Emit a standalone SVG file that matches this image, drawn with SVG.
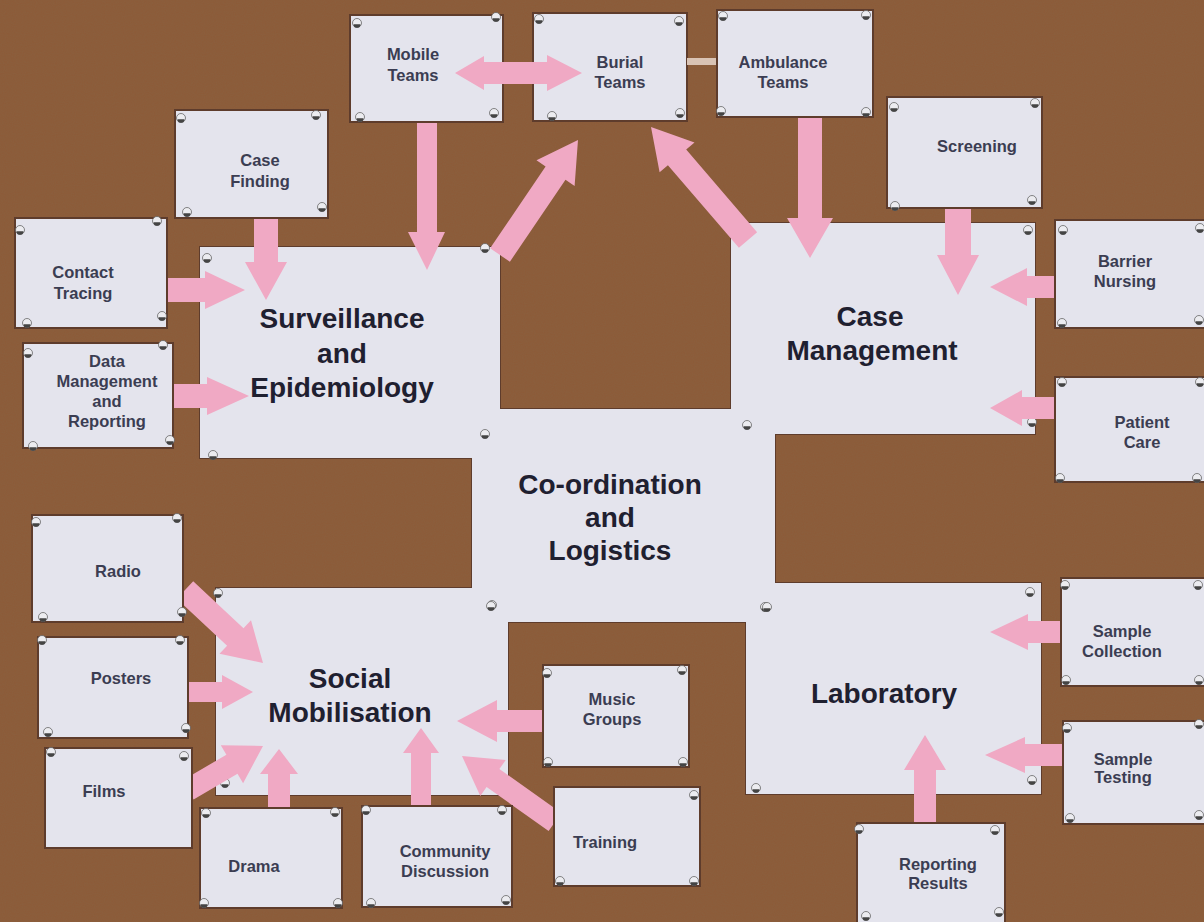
<svg xmlns="http://www.w3.org/2000/svg" xmlns:xlink="http://www.w3.org/1999/xlink" width="1204" height="922" viewBox="0 0 1204 922">
<defs>
<style>
.card{fill:#e4e4ed;stroke:#5e3c2c;stroke-width:2}
.cardfill{fill:#e4e4ed}
.arrow{fill:#f0a9c4}
.sm{font-family:"Liberation Sans",Arial,sans-serif;font-size:16.5px;font-weight:bold;fill:#3b3d52;text-anchor:middle}
.big{font-family:"Liberation Sans",Arial,sans-serif;font-size:28px;font-weight:bold;fill:#1f2030;text-anchor:middle}
</style>
<g id="pin">
<circle r="4.5" fill="#ececf0" stroke="#555" stroke-width="0.7"/>
<path d="M-3.5,1.2 A3.5,3.5 0 0 0 3.5,1.2 Z" fill="#444"/>
</g>
<filter id="tex" x="0" y="0" width="100%" height="100%">
<feTurbulence type="fractalNoise" baseFrequency="0.9" numOctaves="2" seed="3"/>
<feColorMatrix values="0 0 0 0 0.25  0 0 0 0 0.14  0 0 0 0 0.07  0 0 0 0.35 0"/>
</filter>
</defs>

<rect id="board" x="0" y="0" width="1204" height="922" fill="#8c5a37"/>
<rect x="0" y="0" width="1204" height="922" filter="url(#tex)"/>

<!-- big cards: outline pass -->
<g id="big-outlines">
<rect class="card" x="200" y="247" width="300" height="211"/>
<rect class="card" x="731" y="223" width="304" height="211"/>
<rect class="card" x="216" y="588" width="292" height="207"/>
<rect class="card" x="746" y="583" width="295" height="211"/>
<rect class="card" x="472" y="409" width="303" height="213"/>
</g>

<g id="surveillance">
<rect class="cardfill" x="200" y="247" width="300" height="211"/>
<text class="big" x="342" y="328">Surveillance</text>
<text class="big" x="342" y="363">and</text>
<text class="big" x="342" y="397">Epidemiology</text>
</g>
<g id="case-management">
<rect class="cardfill" x="731" y="223" width="304" height="211"/>
<text class="big" x="870" y="326">Case</text>
<text class="big" x="872" y="360">Management</text>
</g>
<g id="social-mobilisation">
<rect class="cardfill" x="216" y="588" width="292" height="207"/>
<text class="big" x="350" y="688">Social</text>
<text class="big" x="350" y="722">Mobilisation</text>
</g>
<g id="laboratory">
<rect class="cardfill" x="746" y="583" width="295" height="211"/>
<text class="big" x="884" y="703">Laboratory</text>
</g>
<g id="coordination">
<rect class="cardfill" x="472" y="409" width="303" height="213"/>
<text class="big" x="610" y="494">Co-ordination</text>
<text class="big" x="610" y="527">and</text>
<text class="big" x="610" y="560">Logistics</text>
</g>

<g id="big-pins">
<use xlink:href="#pin" x="207" y="258"/>
<use xlink:href="#pin" x="485" y="248"/>
<use xlink:href="#pin" x="213" y="455"/>
<use xlink:href="#pin" x="1028" y="230"/>
<use xlink:href="#pin" x="1032" y="422"/>
<use xlink:href="#pin" x="485" y="434"/>
<use xlink:href="#pin" x="747" y="425"/>
<use xlink:href="#pin" x="492" y="605"/>
<use xlink:href="#pin" x="765" y="607"/>
<use xlink:href="#pin" x="218" y="593"/>
<use xlink:href="#pin" x="491" y="606"/>
<use xlink:href="#pin" x="225" y="783"/>
<use xlink:href="#pin" x="767" y="607"/>
<use xlink:href="#pin" x="1030" y="592"/>
<use xlink:href="#pin" x="756" y="788"/>
<use xlink:href="#pin" x="1032" y="780"/>
</g>

<g id="connectors">
<polygon class="arrow" points="417,115 437,115 437,232 445,232 427,270 408,232 417,232"/>
<polygon class="arrow" points="254,210 278,210 278,262 287,262 266,300 245,262 254,262"/>
<polygon class="arrow" points="160,278 205,278 205,271 245,290 205,309 205,302 160,302"/>
<polygon class="arrow" points="165,384 207,384 207,377 249,396 207,415 207,408 165,408"/>
<polygon class="arrow" points="509.9,261.7 565.5,179.8 574.6,186.0 578,140 536.5,160.2 545.6,166.4 490.1,248.3"/>
<polygon class="arrow" points="757.1,232.2 686.2,149.5 694.5,142.4 651,127 659.6,172.3 667.9,165.2 738.9,247.8"/>
<polygon class="arrow" points="798,110 822,110 822,218 833,218 810,258 787,218 798,218"/>
<polygon class="arrow" points="945,200 971,200 971,255 979,255 958,295 937,255 945,255"/>
<polygon class="arrow" points="1065,276 1027,276 1027,268 990,287 1027,306 1027,298 1065,298"/>
<polygon class="arrow" points="1065,397 1022,397 1022,390 990,408 1022,426 1022,419 1065,419"/>
<polygon class="arrow" points="176.8,598.8 227.1,645.8 219.5,653.8 263,663 251.0,620.2 243.5,628.3 193.2,581.2"/>
<polygon class="arrow" points="180,682 222,682 222,675 253,692 222,709 222,702 180,702"/>
<polygon class="arrow" points="193.6,799.5 237.5,773.7 243.1,783.2 263,746 220.8,745.2 226.4,754.7 182.4,780.5"/>
<polygon class="arrow" points="268,815 290,815 290,774 298,774 279,749 260,774 268,774"/>
<polygon class="arrow" points="411,815 431,815 431,753 439,753 421,728 403,753 411,753"/>
<polygon class="arrow" points="548,710 497,710 497,700 457,721 497,742 497,732 548,732"/>
<polygon class="arrow" points="561.4,813.0 499.4,769.0 505.7,760.1 462,756 480.3,795.9 486.6,787.0 548.6,831.0"/>
<polygon class="arrow" points="1068,621 1028,621 1028,614 990,632 1028,650 1028,643 1068,643"/>
<polygon class="arrow" points="1068,744 1025,744 1025,737 985,755 1025,773 1025,766 1068,766"/>
<polygon class="arrow" points="914,830 936,830 936,770 946,770 925,735 904,770 914,770"/>
</g>

<g id="mobile-teams">
<rect class="card" x="350" y="15" width="153" height="107"/>
<text class="sm" x="413" y="60">Mobile</text>
<text class="sm" x="413" y="81">Teams</text>
<use xlink:href="#pin" x="357" y="23"/><use xlink:href="#pin" x="496" y="17"/><use xlink:href="#pin" x="360" y="117"/><use xlink:href="#pin" x="494" y="113"/>
</g>
<g id="burial-teams">
<rect class="card" x="533" y="13" width="154" height="108"/>
<text class="sm" x="620" y="68">Burial</text>
<text class="sm" x="620" y="88">Teams</text>
<use xlink:href="#pin" x="539" y="19"/><use xlink:href="#pin" x="679" y="21"/><use xlink:href="#pin" x="552" y="116"/><use xlink:href="#pin" x="680" y="113"/>
</g>
<rect id="tape" x="687" y="58" width="31" height="7" fill="#d9c3b4"/>
<g id="ambulance-teams">
<rect class="card" x="717" y="10" width="156" height="107"/>
<text class="sm" x="783" y="68">Ambulance</text>
<text class="sm" x="783" y="88">Teams</text>
<use xlink:href="#pin" x="723" y="16"/><use xlink:href="#pin" x="866" y="15"/><use xlink:href="#pin" x="721" y="111"/><use xlink:href="#pin" x="866" y="112"/>
</g>
<g id="case-finding">
<rect class="card" x="175" y="110" width="153" height="108"/>
<text class="sm" x="260" y="166">Case</text>
<text class="sm" x="260" y="187">Finding</text>
<use xlink:href="#pin" x="181" y="118"/><use xlink:href="#pin" x="316" y="115"/><use xlink:href="#pin" x="187" y="212"/><use xlink:href="#pin" x="322" y="207"/>
</g>
<g id="contact-tracing">
<rect class="card" x="15" y="218" width="152" height="110"/>
<text class="sm" x="83" y="278">Contact</text>
<text class="sm" x="83" y="299">Tracing</text>
<use xlink:href="#pin" x="20" y="230"/><use xlink:href="#pin" x="157" y="221"/><use xlink:href="#pin" x="27" y="323"/><use xlink:href="#pin" x="162" y="316"/>
</g>
<g id="data-management">
<rect class="card" x="23" y="343" width="150" height="105"/>
<text class="sm" x="107" y="367">Data</text>
<text class="sm" x="107" y="387">Management</text>
<text class="sm" x="107" y="407">and</text>
<text class="sm" x="107" y="427">Reporting</text>
<use xlink:href="#pin" x="28" y="353"/><use xlink:href="#pin" x="163" y="345"/><use xlink:href="#pin" x="33" y="446"/><use xlink:href="#pin" x="170" y="440"/>
</g>
<g id="screening">
<rect class="card" x="887" y="97" width="155" height="111"/>
<text class="sm" x="977" y="152">Screening</text>
<use xlink:href="#pin" x="894" y="107"/><use xlink:href="#pin" x="1035" y="103"/><use xlink:href="#pin" x="895" y="206"/><use xlink:href="#pin" x="1032" y="200"/>
</g>
<g id="barrier-nursing">
<rect class="card" x="1055" y="220" width="160" height="108"/>
<text class="sm" x="1125" y="267">Barrier</text>
<text class="sm" x="1125" y="287">Nursing</text>
<use xlink:href="#pin" x="1063" y="230"/><use xlink:href="#pin" x="1200" y="228"/><use xlink:href="#pin" x="1062" y="323"/><use xlink:href="#pin" x="1199" y="320"/>
</g>
<g id="patient-care">
<rect class="card" x="1055" y="377" width="160" height="105"/>
<text class="sm" x="1142" y="428">Patient</text>
<text class="sm" x="1142" y="448">Care</text>
<use xlink:href="#pin" x="1062" y="382"/><use xlink:href="#pin" x="1200" y="382"/><use xlink:href="#pin" x="1060" y="478"/><use xlink:href="#pin" x="1197" y="478"/>
</g>
<g id="radio">
<rect class="card" x="32" y="515" width="151" height="107"/>
<text class="sm" x="118" y="577">Radio</text>
<use xlink:href="#pin" x="36" y="522"/><use xlink:href="#pin" x="177" y="518"/><use xlink:href="#pin" x="43" y="617"/><use xlink:href="#pin" x="182" y="612"/>
</g>
<g id="posters">
<rect class="card" x="38" y="637" width="150" height="101"/>
<text class="sm" x="121" y="684">Posters</text>
<use xlink:href="#pin" x="42" y="640"/><use xlink:href="#pin" x="180" y="640"/><use xlink:href="#pin" x="48" y="732"/><use xlink:href="#pin" x="186" y="728"/>
</g>
<g id="films">
<rect class="card" x="45" y="748" width="147" height="100"/>
<text class="sm" x="104" y="797">Films</text>
<use xlink:href="#pin" x="51" y="752"/><use xlink:href="#pin" x="184" y="756"/>
</g>
<g id="drama">
<rect class="card" x="200" y="808" width="142" height="100"/>
<text class="sm" x="254" y="872">Drama</text>
<use xlink:href="#pin" x="206" y="813"/><use xlink:href="#pin" x="335" y="812"/><use xlink:href="#pin" x="204" y="903"/><use xlink:href="#pin" x="338" y="903"/>
</g>
<g id="community-discussion">
<rect class="card" x="362" y="806" width="150" height="101"/>
<text class="sm" x="445" y="857">Community</text>
<text class="sm" x="445" y="877">Discussion</text>
<use xlink:href="#pin" x="366" y="810"/><use xlink:href="#pin" x="502" y="810"/><use xlink:href="#pin" x="371" y="903"/><use xlink:href="#pin" x="506" y="900"/>
</g>
<g id="music-groups">
<rect class="card" x="543" y="665" width="146" height="102"/>
<text class="sm" x="612" y="705">Music</text>
<text class="sm" x="612" y="725">Groups</text>
<use xlink:href="#pin" x="547" y="673"/><use xlink:href="#pin" x="682" y="670"/><use xlink:href="#pin" x="548" y="762"/><use xlink:href="#pin" x="683" y="762"/>
</g>
<g id="training">
<rect class="card" x="554" y="787" width="146" height="99"/>
<text class="sm" x="605" y="848">Training</text>
<use xlink:href="#pin" x="694" y="795"/><use xlink:href="#pin" x="560" y="881"/><use xlink:href="#pin" x="694" y="881"/>
</g>
<g id="reporting-results">
<rect class="card" x="857" y="823" width="148" height="110"/>
<text class="sm" x="938" y="870">Reporting</text>
<text class="sm" x="938" y="889">Results</text>
<use xlink:href="#pin" x="859" y="829"/><use xlink:href="#pin" x="995" y="830"/><use xlink:href="#pin" x="866" y="916"/><use xlink:href="#pin" x="999" y="912"/>
</g>
<g id="sample-collection">
<rect class="card" x="1061" y="578" width="150" height="108"/>
<text class="sm" x="1122" y="637">Sample</text>
<text class="sm" x="1122" y="657">Collection</text>
<use xlink:href="#pin" x="1065" y="585"/><use xlink:href="#pin" x="1198" y="585"/><use xlink:href="#pin" x="1066" y="680"/><use xlink:href="#pin" x="1199" y="680"/>
</g>
<g id="sample-testing">
<rect class="card" x="1063" y="721" width="150" height="103"/>
<text class="sm" x="1123" y="765">Sample</text>
<text class="sm" x="1123" y="783">Testing</text>
<use xlink:href="#pin" x="1067" y="728"/><use xlink:href="#pin" x="1199" y="724"/><use xlink:href="#pin" x="1070" y="818"/><use xlink:href="#pin" x="1199" y="815"/>
</g>

<g id="connector-mobile-burial">
<polygon class="arrow" points="455,73 484,56 484,62 547,62 547,55 582,73 547,91 547,84 484,84 484,90"/>
</g>
</svg>
